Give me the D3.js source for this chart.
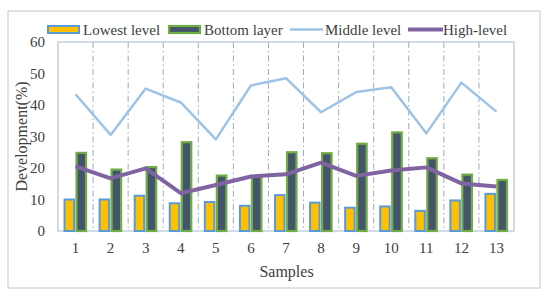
<!DOCTYPE html>
<html><head><meta charset="utf-8">
<script src="https://cdn.jsdelivr.net/npm/d3@7"></script>
<style>body{margin:0;background:#fff}svg{display:block}text{font-family:"Liberation Serif","Times New Roman",serif;fill:#404040}</style>
</head><body><svg id="c" width="552" height="302"></svg>
<script>
const categories = ["1","2","3","4","5","6","7","8","9","10","11","12","13"];
const lowestLevel = [10.0,10.0,11.2,8.8,9.2,8.0,11.4,9.0,7.4,7.8,6.4,9.7,11.8];
const bottomLayer = [24.8,19.5,20.3,28.2,17.6,17.4,25.0,24.7,27.7,31.3,23.1,17.9,16.2];
const middleLevel = [43.4,30.5,45.2,40.8,29.1,46.2,48.5,37.7,44.1,45.6,31.0,47.1,37.9];
const highLevel = [20.5,16.7,19.9,12.0,14.6,17.3,18.0,21.7,17.5,19.2,20.2,15.1,14.1];
const yTicks = [0,10,20,30,40,50,60];
const seriesNames = ["Lowest level","Bottom layer","Middle level","High-level"];

const svg = d3.select("#c");
const L=58, R=514, T=42, B=231;
svg.append("rect").attr("x",8).attr("y",11).attr("width",532).attr("height",277)
  .attr("fill","#fff").attr("stroke","#d9d9d9").attr("stroke-width",1.5);

const x = d3.scaleBand().domain(categories).range([L,R]);
const y = d3.scaleLinear().domain([0,60]).range([B,T]);

// dashed vertical gridlines between categories
const g = svg.append("g");
categories.slice(1).forEach(c=>{
  g.append("line").attr("x1",x(c)).attr("x2",x(c)).attr("y1",T).attr("y2",B)
   .attr("stroke","#9aaabb").attr("stroke-width",1).attr("stroke-dasharray","6,3,1.5,3");
});
// plot frame
svg.append("rect").attr("x",L).attr("y",T).attr("width",R-L).attr("height",B-T)
  .attr("fill","none").attr("stroke","#b4c4d6").attr("stroke-width",1.2);

const bw = 10.5;
const bars = svg.append("g");
categories.forEach((c,i)=>{
  const cx = x(c)+x.bandwidth()/2;
  bars.append("rect").attr("x",cx-bw-0.5).attr("y",y(lowestLevel[i])).attr("width",bw-1)
    .attr("height",B-y(lowestLevel[i])).attr("fill","#FFC000").attr("stroke","#5B9BD5").attr("stroke-width",2);
  bars.append("rect").attr("x",cx+1).attr("y",y(bottomLayer[i])).attr("width",bw-1)
    .attr("height",B-y(bottomLayer[i])).attr("fill","#44546A").attr("stroke","#70AD47").attr("stroke-width",2.2);
});

const line = d3.line().x((d,i)=>x(categories[i])+x.bandwidth()/2).y(d=>y(d));
svg.append("path").datum(middleLevel).attr("d",line).attr("fill","none")
  .attr("stroke","#9DC3E6").attr("stroke-width",2.5).attr("stroke-linejoin","round");
svg.append("path").datum(highLevel).attr("d",line).attr("fill","none")
  .attr("stroke","#8064A2").attr("stroke-width",4).attr("stroke-linejoin","round");

// axes labels
const yAxis = d3.axisLeft(y).tickValues(yTicks).tickSize(0).tickPadding(13);
const ya = svg.append("g").attr("transform",`translate(${L},0)`).call(yAxis);
ya.select(".domain").remove();
ya.selectAll("text").style("font-size","15px").style("font-family","Liberation Serif").attr("fill","#404040");

const xAxis = d3.axisBottom(x).tickSize(0).tickPadding(11);
const xa = svg.append("g").attr("transform",`translate(0,${B})`).call(xAxis);
xa.select(".domain").remove();
xa.selectAll("text").style("font-size","15px").style("font-family","Liberation Serif").attr("fill","#404040");

svg.append("text").attr("x",286.5).attr("y",277).attr("text-anchor","middle")
  .style("font-size","16px").text("Samples");
svg.append("text").attr("transform","translate(27,136.5) rotate(-90)").attr("text-anchor","middle")
  .style("font-size","16px").text("Development(%)");

// legend
const leg = svg.append("g");
leg.append("rect").attr("x",48).attr("y",26).attr("width",31).attr("height",7)
  .attr("fill","#FFC000").attr("stroke","#5B9BD5").attr("stroke-width",2);
leg.append("text").attr("x",83).attr("y",34.5).style("font-size","15px").text(seriesNames[0]);
leg.append("rect").attr("x",169).attr("y",26).attr("width",31).attr("height",7)
  .attr("fill","#44546A").attr("stroke","#70AD47").attr("stroke-width",2.2);
leg.append("text").attr("x",204).attr("y",34.5).style("font-size","15px").text(seriesNames[1]);
leg.append("line").attr("x1",290).attr("x2",323).attr("y1",29.5).attr("y2",29.5)
  .attr("stroke","#9DC3E6").attr("stroke-width",2.5);
leg.append("text").attr("x",325).attr("y",34.5).style("font-size","15px").text(seriesNames[2]);
leg.append("line").attr("x1",408).attr("x2",443).attr("y1",29.5).attr("y2",29.5)
  .attr("stroke","#8064A2").attr("stroke-width",4);
leg.append("text").attr("x",443).attr("y",34.5).style("font-size","15px").text(seriesNames[3]);
</script></body></html>
